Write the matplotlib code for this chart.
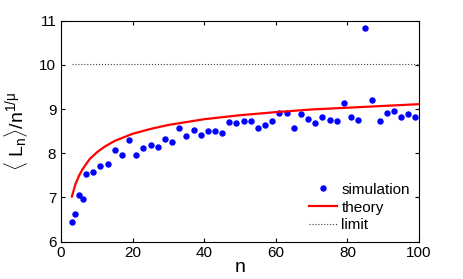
import matplotlib
matplotlib.use('Agg')
import matplotlib.pyplot as plt

plt.rcParams['font.family'] = ['Liberation Sans', 'DejaVu Sans']
plt.rcParams['mathtext.fontset'] = 'custom'
plt.rcParams['mathtext.rm'] = 'Liberation Sans'
plt.rcParams['mathtext.it'] = 'Liberation Sans'
plt.rcParams['mathtext.bf'] = 'Liberation Sans'

# simulation points
n_sim = [3, 4, 5, 6, 7, 9, 11, 13, 15, 17, 19, 21, 23, 25, 27, 29, 31, 33, 35,
         37, 39, 41, 43, 45, 47, 49, 51, 53, 55, 57, 59, 61, 63, 65, 67, 69, 71,
         73, 75, 77, 79, 81, 83, 85, 87, 89, 91, 93, 95, 97, 99]
sim = [6.44, 6.63, 7.05, 6.96, 7.52, 7.57, 7.71, 7.75, 8.07, 7.97, 8.29, 7.95,
       8.12, 8.19, 8.15, 8.32, 8.26, 8.57, 8.38, 8.53, 8.41, 8.51, 8.50, 8.45,
       8.71, 8.68, 8.74, 8.72, 8.57, 8.63, 8.72, 8.90, 8.90, 8.56, 8.88, 8.77,
       8.69, 8.81, 8.75, 8.73, 9.13, 8.82, 8.75, 10.83, 9.21, 8.72, 8.90, 8.96,
       8.81, 8.88, 8.82]

# theory curve
n_th = [3, 4, 5, 6, 8, 10, 12, 15, 20, 25, 30, 40, 50, 60, 70, 80, 90, 100]
theory = [7.02, 7.30, 7.49, 7.64, 7.87, 8.02, 8.14, 8.28, 8.44, 8.55, 8.64,
          8.77, 8.86, 8.93, 8.99, 9.03, 9.07, 9.11]

n_lim = [3, 100]
limit = [10.03, 10.03]

fig = plt.figure(figsize=(4.63, 2.79), dpi=100)
ax = fig.add_axes([0.132, 0.134, 0.773, 0.792])

ax.plot(n_sim, sim, 'o', color='blue', markersize=3.6, label='simulation')
ax.plot(n_th, theory, '-', color='red', lw=1.6, label='theory')
ax.plot(n_lim, limit, ':', color='#444444', lw=0.8, label='limit')

ax.set_xlim(0, 100)
ax.set_ylim(6, 11)
ax.set_xticks([0, 20, 40, 60, 80, 100])
ax.set_yticks([6, 7, 8, 9, 10, 11])
ax.tick_params(direction='in', top=True, right=True, labelsize=11, length=3)
ax.set_xlabel('n', fontsize=14, labelpad=-1)
ax.set_ylabel(r'$\langle\ \mathrm{L_n}\rangle/\mathrm{n}^{1/\mu}$', fontsize=14, labelpad=7)

ax.legend(loc='lower right', frameon=False, fontsize=11, handlelength=1.8,
          handletextpad=0.3, labelspacing=0.25, borderaxespad=0.2)

fig.savefig('out.png', dpi=100)
